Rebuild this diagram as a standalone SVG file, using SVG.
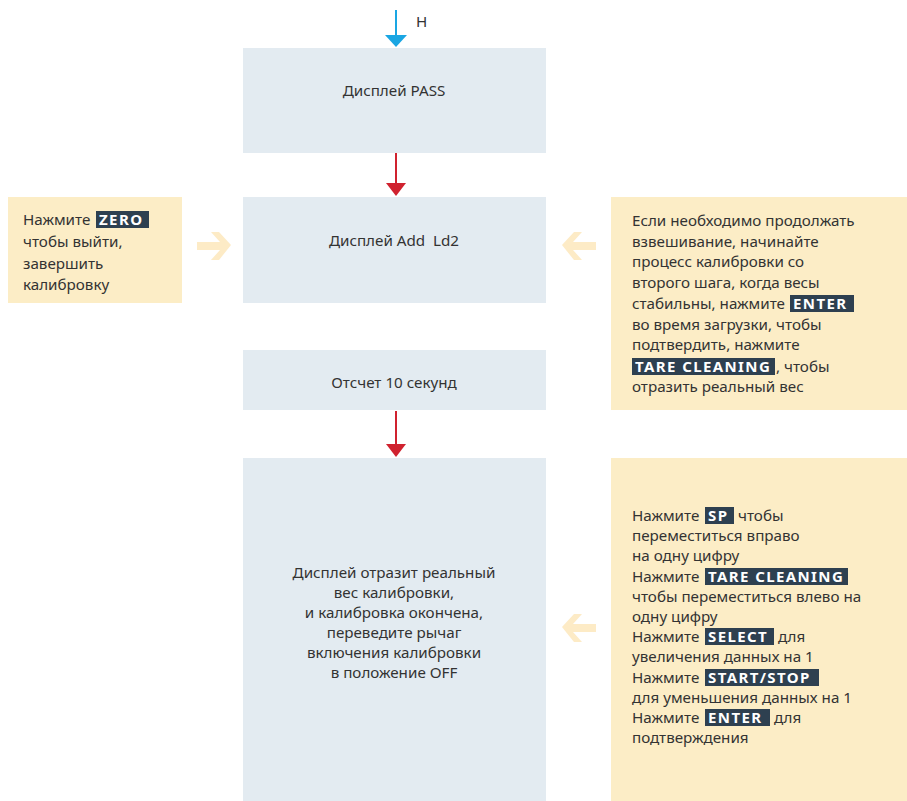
<svg xmlns="http://www.w3.org/2000/svg" width="907" height="801" viewBox="0 0 907 801">
  <style>
    .step { fill: #e3ebf1; }
    .note { fill: #fcedc6; }
    .t { font-family: "Noto Sans", "Open Sans", sans-serif; font-size: 15.2px; fill: #333333; }
    .c { text-anchor: middle; }
    .key { fill: #2e4050; }
    .kt { font-family: "Noto Sans", "Open Sans", sans-serif; font-size: 15px; font-weight: bold; fill: #ffffff; letter-spacing: 1.4px; }
    .flow { stroke: #d0222f; stroke-width: 2; fill: none; }
    .start { stroke: #1aa6e3; stroke-width: 2; fill: none; }
    .hint { fill: #fdebc6; }
  </style>
  <defs>
    <path id="arrowLeft" d="M0,0 L12,-13 L20,-13 L11,-3 L34,-3 L34,5 L11,5 L20,15 L12,15 Z"/>
  </defs>

  <rect width="907" height="801" fill="#ffffff"/>

  <!-- connectors -->
  <g id="connectors">
    <line class="start" x1="396" y1="10" x2="396" y2="36"/>
    <path d="M385,35 L407,35 L396,47 Z" fill="#1aa6e3"/>
    <text class="t" x="416" y="27">H</text>
    <line class="flow" x1="396" y1="153" x2="396" y2="184"/>
    <path d="M386,183 L406,183 L396,196 Z" fill="#d0222f"/>
    <line class="flow" x1="396" y1="411" x2="396" y2="445"/>
    <path d="M386,444 L406,444 L396,457 Z" fill="#d0222f"/>
    <!-- hint arrows -->
    <use href="#arrowLeft" class="hint" transform="translate(231,245) scale(-1,1)"/>
    <use href="#arrowLeft" class="hint" transform="translate(562,245)"/>
    <use href="#arrowLeft" class="hint" transform="translate(562,627)"/>
  </g>

  <g id="pass">
    <rect class="step" x="243" y="48" width="303" height="105"/>
    <text class="t c" x="394" y="96">Дисплей PASS</text>
  </g>

  <g id="add-ld2">
    <rect class="step" x="243" y="197" width="303" height="106"/>
    <text class="t c" x="394" y="246" xml:space="preserve">Дисплей Add  Ld2</text>
  </g>

  <g id="countdown">
    <rect class="step" x="243" y="350" width="303" height="60"/>
    <text class="t c" x="394" y="388">Отсчет 10 секунд</text>
  </g>

  <g id="done">
    <rect class="step" x="243" y="458" width="303" height="343"/>
    <text class="t c" x="394" y="578">Дисплей отразит реальный</text>
    <text class="t c" x="394" y="598">вес калибровки,</text>
    <text class="t c" x="394" y="618">и калибровка окончена,</text>
    <text class="t c" x="394" y="638">переведите рычаг</text>
    <text class="t c" x="394" y="658">включения калибровки</text>
    <text class="t c" x="394" y="678">в положение OFF</text>
  </g>

  <g id="exit-note">
    <rect class="note" x="8" y="197" width="174" height="106"/>
    <text class="t" x="23" y="225">Нажмите</text>
    <rect class="key" x="96" y="211" width="53" height="17"/>
    <text class="kt" x="99" y="225">ZERO</text>
    <text class="t" x="23" y="247">чтобы выйти,</text>
    <text class="t" x="23" y="269">завершить</text>
    <text class="t" x="23" y="290">калибровку</text>
  </g>

  <g id="continue-note">
    <rect class="note" x="611" y="197" width="296" height="213"/>
    <text class="t" x="632" y="226">Если необходимо продолжать</text>
    <text class="t" x="632" y="247">взвешивание, начинайте</text>
    <text class="t" x="632" y="267">процесс калибровки со</text>
    <text class="t" x="632" y="288">второго шага, когда весы</text>
    <text class="t" x="632" y="309">стабильны, нажмите</text>
    <rect class="key" x="790" y="295" width="64" height="17"/>
    <text class="kt" x="793" y="309">ENTER</text>
    <text class="t" x="632" y="330">во время загрузки, чтобы</text>
    <text class="t" x="632" y="350">подтвердить, нажмите</text>
    <rect class="key" x="632" y="358" width="143" height="17"/>
    <text class="kt" x="635" y="372">TARE CLEANING</text>
    <text class="t" x="776" y="372">, чтобы</text>
    <text class="t" x="632" y="392">отразить реальный вес</text>
  </g>

  <g id="edit-note">
    <rect class="note" x="611" y="458" width="296" height="343"/>
    <text class="t" x="632" y="521">Нажмите</text>
    <rect class="key" x="705" y="507" width="29" height="17"/>
    <text class="kt" x="708" y="521">SP</text>
    <text class="t" x="738" y="521">чтобы</text>
    <text class="t" x="632" y="541">переместиться вправо</text>
    <text class="t" x="632" y="561">на одну цифру</text>
    <text class="t" x="632" y="582">Нажмите</text>
    <rect class="key" x="705" y="568" width="143" height="17"/>
    <text class="kt" x="708" y="582">TARE CLEANING</text>
    <text class="t" x="632" y="602">чтобы переместиться влево на</text>
    <text class="t" x="632" y="622">одну цифру</text>
    <text class="t" x="632" y="642">Нажмите</text>
    <rect class="key" x="705" y="628" width="69" height="17"/>
    <text class="kt" x="708" y="642">SELECT</text>
    <text class="t" x="778" y="642">для</text>
    <text class="t" x="632" y="662">увеличения данных на 1</text>
    <text class="t" x="632" y="683">Нажмите</text>
    <rect class="key" x="705" y="669" width="114" height="17"/>
    <text class="kt" x="708" y="683">START/STOP</text>
    <text class="t" x="632" y="703">для уменьшения данных на 1</text>
    <text class="t" x="632" y="723">Нажмите</text>
    <rect class="key" x="705" y="709" width="65" height="17"/>
    <text class="kt" x="708" y="723">ENTER</text>
    <text class="t" x="774" y="723">для</text>
    <text class="t" x="632" y="743">подтверждения</text>
  </g>
</svg>
